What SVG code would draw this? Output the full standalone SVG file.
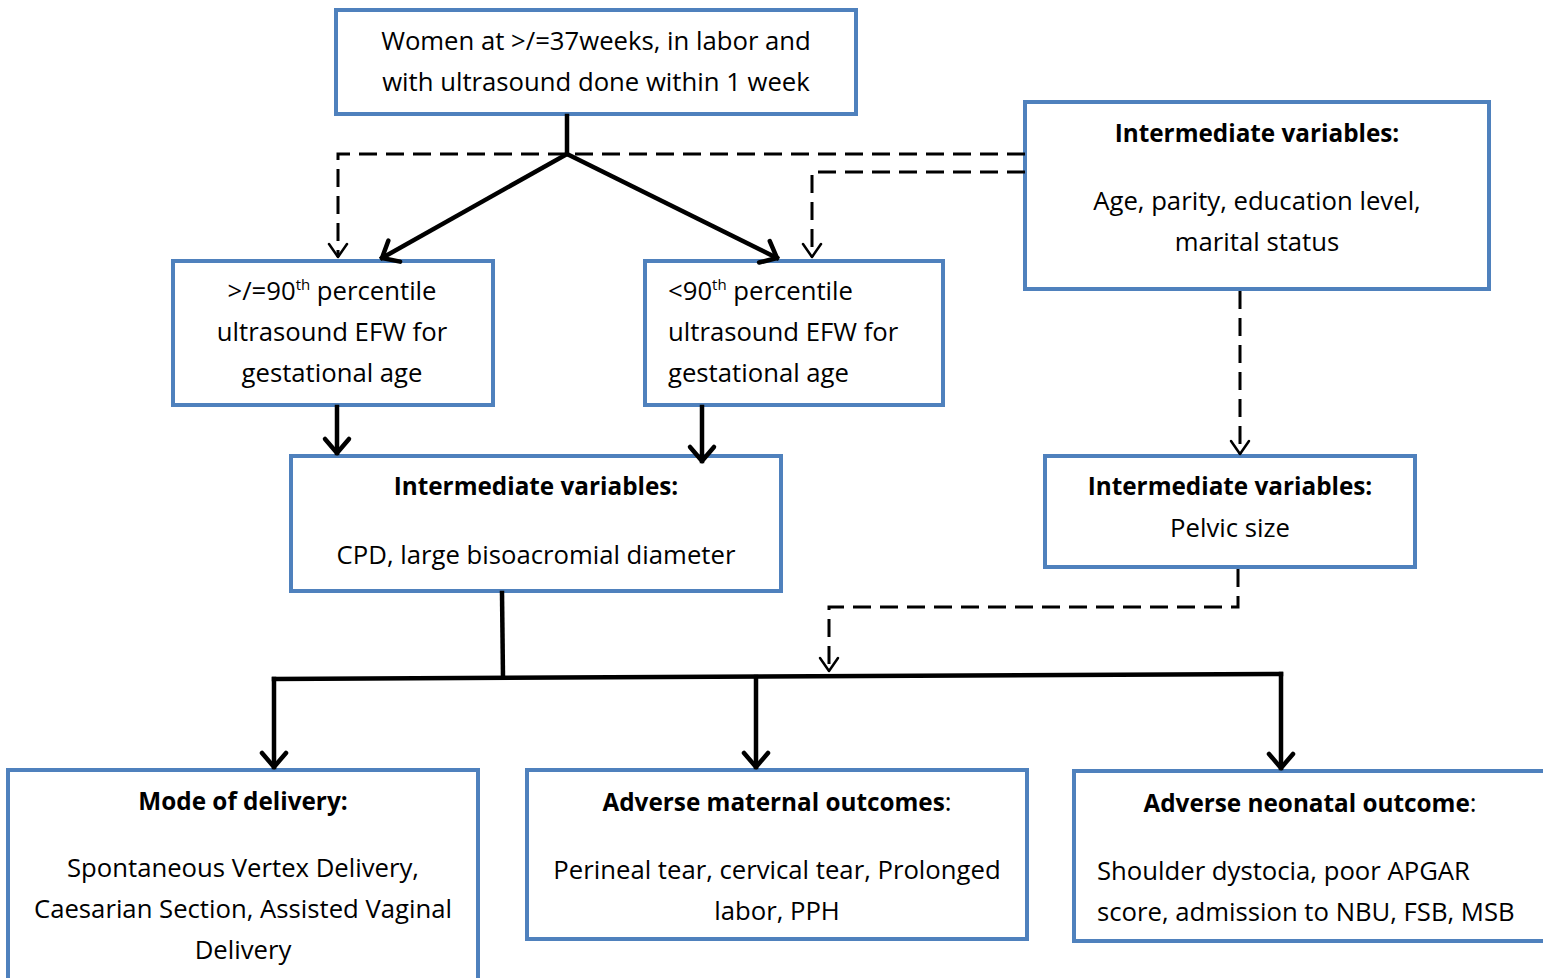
<svg xmlns="http://www.w3.org/2000/svg" width="1543" height="978" viewBox="0 0 1543 978">
<style>
.box{fill:#fff;stroke:#4F81BD;stroke-width:4}
text{font-family:"Open Sans","Liberation Sans",Arial,sans-serif;font-size:25.7px;fill:#000}
.c{text-anchor:middle}
.b{font-weight:bold;font-size:24.3px}
.sol{fill:none;stroke:#000;stroke-width:4.5;stroke-linecap:square}
.das{fill:none;stroke:#000;stroke-width:3;stroke-dasharray:18,9}
.ah{fill:none;stroke:#000;stroke-width:4.5;stroke-linecap:round;stroke-linejoin:round}
.ahd{fill:none;stroke:#000;stroke-width:2.5;stroke-linecap:round;stroke-linejoin:round}
</style>
<defs>
<marker id="as" markerUnits="userSpaceOnUse" markerWidth="40" markerHeight="40" refX="20" refY="20" orient="auto" viewBox="0 0 40 40">
<path d="M6,8 L20,20 L6,32" class="ah"/>
</marker>
<marker id="ad" markerUnits="userSpaceOnUse" markerWidth="40" markerHeight="40" refX="20" refY="20" orient="auto" viewBox="0 0 40 40">
<path d="M7,11 L20,20 L7,29" class="ahd"/>
</marker>
</defs>

<g id="n1">
<rect class="box" x="336" y="10" width="520" height="104"/>
<text class="c" x="596" y="50">Women at &gt;/=37weeks, in labor and</text>
<text class="c" x="596" y="91">with ultrasound done within 1 week</text>
</g>
<g id="n2">
<rect class="box" x="173" y="261" width="320" height="144"/>
<text class="c" x="332" y="300">&gt;/=90<tspan font-size="15" dy="-10">th</tspan><tspan dy="10"> percentile</tspan></text>
<text class="c" x="332" y="341">ultrasound EFW for</text>
<text class="c" x="332" y="382">gestational age</text>
</g>
<g id="n3">
<rect class="box" x="645" y="261" width="298" height="144"/>
<text x="668" y="300">&lt;90<tspan font-size="15" dy="-10">th</tspan><tspan dy="10"> percentile</tspan></text>
<text x="668" y="341">ultrasound EFW for</text>
<text x="668" y="382">gestational age</text>
</g>
<g id="n4">
<rect class="box" x="1025" y="102" width="464" height="187"/>
<text class="c b" x="1257" y="142">Intermediate variables:</text>
<text class="c" x="1257" y="210">Age, parity, education level,</text>
<text class="c" x="1257" y="251">marital status</text>
</g>
<g id="n5">
<rect class="box" x="291" y="456" width="490" height="135"/>
<text class="c b" x="536" y="495">Intermediate variables:</text>
<text class="c" x="536" y="564">CPD, large bisoacromial diameter</text>
</g>
<g id="n6">
<rect class="box" x="1045" y="456" width="370" height="111"/>
<text class="c b" x="1230" y="495">Intermediate variables:</text>
<text class="c" x="1230" y="537">Pelvic size</text>
</g>
<g id="n7">
<rect class="box" x="8" y="770" width="470" height="230"/>
<text class="c b" x="243" y="810">Mode of delivery:</text>
<text class="c" x="243" y="877">Spontaneous Vertex Delivery,</text>
<text class="c" x="243" y="918">Caesarian Section, Assisted Vaginal</text>
<text class="c" x="243" y="959">Delivery</text>
</g>
<g id="n8">
<rect class="box" x="527" y="770" width="500" height="169"/>
<text class="c" x="777" y="811"><tspan class="b">Adverse maternal outcomes</tspan>:</text>
<text class="c" x="777" y="879">Perineal tear, cervical tear, Prolonged</text>
<text class="c" x="777" y="920">labor, PPH</text>
</g>
<g id="n9">
<rect class="box" x="1074" y="771" width="480" height="170"/>
<text class="c" x="1310" y="812"><tspan class="b">Adverse neonatal outcome</tspan>:</text>
<text x="1097" y="880">Shoulder dystocia, poor APGAR</text>
<text x="1097" y="921">score, admission to NBU, FSB, MSB</text>
</g>

<g id="connectors">
<path class="sol" d="M567,116 L567,154"/>
<path class="sol" d="M567,154 L382,258" marker-end="url(#as)"/>
<path class="sol" d="M567,154 L777,258" marker-end="url(#as)"/>
<path class="das" d="M1025,154 L338,154 L338,257" marker-end="url(#ad)"/>
<path class="das" d="M1025,172 L812,172 L812,257" marker-end="url(#ad)"/>
<path class="sol" d="M337,407 L337,453" marker-end="url(#as)"/>
<path class="sol" d="M702,407 L702,461" marker-end="url(#as)"/>
<path class="das" d="M1240,291 L1240,454" marker-end="url(#ad)"/>
<path class="sol" d="M502,593 L503,677"/>
<path class="sol" d="M274,679 L1281,674"/>
<path class="sol" d="M274,679 L274,767" marker-end="url(#as)"/>
<path class="sol" d="M756,677 L756,767" marker-end="url(#as)"/>
<path class="sol" d="M1281,674 L1281,768" marker-end="url(#as)"/>
<path class="das" d="M1238,569 L1238,607 L829,607 L829,671" marker-end="url(#ad)"/>
</g>
</svg>
